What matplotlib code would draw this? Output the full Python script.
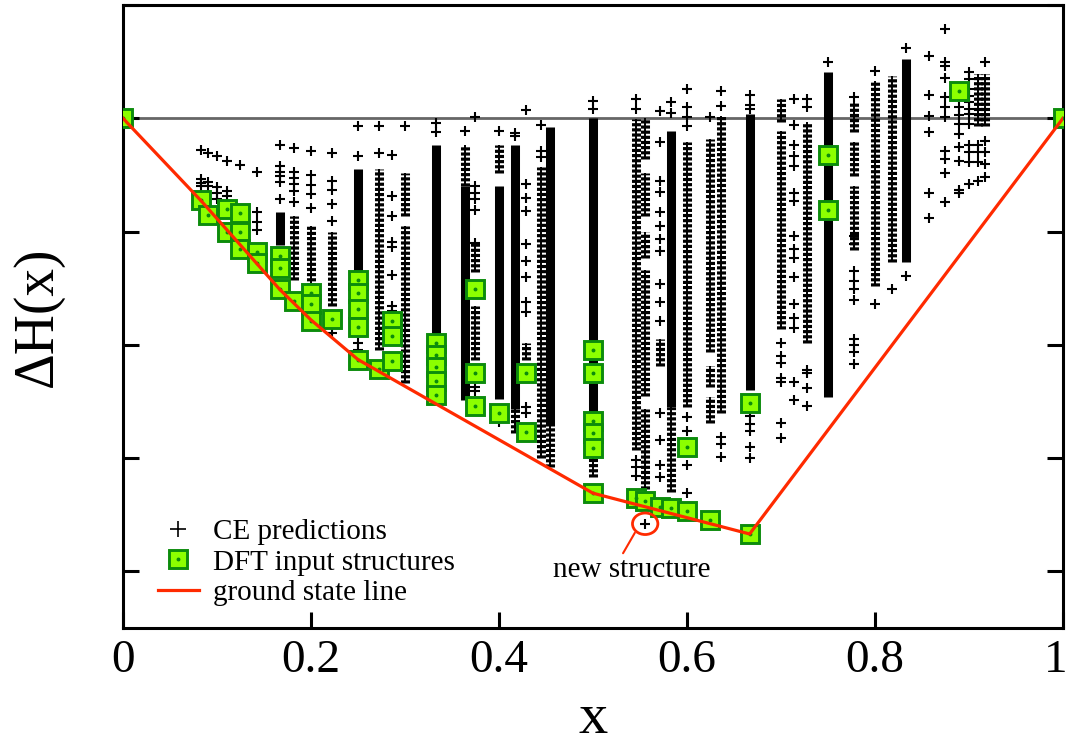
import numpy as np
import matplotlib
matplotlib.use('Agg')
import matplotlib.pyplot as plt
from matplotlib.patches import Ellipse
from matplotlib.lines import Line2D
from matplotlib.transforms import ScaledTranslation

plt.rcParams['font.family'] = ['Liberation Serif', 'DejaVu Serif']

# CE predictions: isolated crosses per composition column
ce_points = [
    (1/12, [-0.028, -0.054, -0.057, -0.060]),
    (1/11, [-0.031, -0.056, -0.060]),
    (1/10, [-0.033, -0.061, -0.066, -0.071]),
    (1/9, [-0.038, -0.064, -0.069]),
    (1/8, [-0.041]),
    (1/7, [-0.047, -0.083, -0.092, -0.099]),
    (1/6, [-0.024, -0.042, -0.047, -0.051, -0.056, -0.071]),
    (2/11, [-0.026, -0.047, -0.053, -0.058, -0.064, -0.074]),
    (1/5, [-0.029, -0.050, -0.059, -0.067, -0.079]),
    (2/9, [-0.031, -0.055, -0.063, -0.076, -0.091, -0.190]),
    (1/4, [-0.007, -0.033, -0.198, -0.205]),
    (3/11, [-0.007, -0.031]),
    (2/7, [-0.032, -0.069, -0.086, -0.109, -0.114, -0.138, -0.166, -0.170]),
    (3/10, [-0.007]),
    (1/3, [-0.004, -0.012]),
    (4/11, [-0.011]),
    (3/8, [0.001, -0.060, -0.066, -0.071, -0.081, -0.110, -0.237, -0.241]),
    (2/5, [-0.011, -0.268]),
    (5/12, [-0.013, -0.016]),
    (3/7, [0.007, -0.058, -0.070, -0.082, -0.111, -0.126, -0.140, -0.162,
           -0.171, -0.255, -0.260]),
    (4/9, [-0.006, -0.029, -0.034]),
    (1/2, [0.015, 0.008]),
    (6/11, [0.017, 0.008, -0.302, -0.308, -0.316]),
    (5/9, [-0.358]),
    (4/7, [0.006, -0.021, -0.055, -0.065, -0.083, -0.095, -0.107, -0.117,
           -0.146, -0.162, -0.179, -0.260, -0.284, -0.306, -0.317]),
    (7/12, [0.014, 0.005]),
    (3/5, [0.026, 0.010, 0.001, -0.007, -0.264, -0.276, -0.306, -0.331]),
    (5/8, [0.001]),
    (7/11, [0.024, 0.011, -0.281, -0.288, -0.299]),
    (2/3, [0.021, 0.012, 0.008, -0.263, -0.270, -0.276, -0.290, -0.300]),
    (7/10, [-0.198, -0.210, -0.216, -0.229, -0.233, -0.269, -0.282]),
    (5/7, [0.017, -0.006, -0.024, -0.033, -0.042, -0.066, -0.073, -0.104,
           -0.115, -0.123, -0.140, -0.164, -0.176, -0.185, -0.233, -0.249]),
    (8/11, [0.017, 0.010, -0.222, -0.225, -0.238, -0.254]),
    (3/4, [0.050]),
    (7/9, [0.019, -0.104, -0.111, -0.135, -0.144, -0.151, -0.160, -0.195,
           -0.200, -0.206, -0.217]),
    (4/5, [0.042, -0.164]),
    (9/11, [-0.151]),
    (5/6, [0.062, -0.139]),
    (6/7, [0.055, 0.021, 0.002, -0.012, -0.066, -0.088]),
    (7/8, [0.079, 0.050, 0.046, 0.036, 0.019, 0.010, 0.001, -0.029, -0.036,
           -0.048, -0.074]),
    (8/9, [0.010, 0.003, -0.005, -0.014, -0.025, -0.038, -0.063, -0.066]),
    (9/10, [0.041, 0.035, 0.026, 0.020, 0.014, 0.008, 0.004, -0.005, -0.024,
            -0.030, -0.039, -0.058]),
    (10/11, [-0.024, -0.030, -0.039, -0.055]),
    (11/12, [0.050, -0.020, -0.030, -0.040, -0.052]),
]

# CE predictions packed so tightly they form a solid bar (top, bottom)
ce_dense = [
    (1/6, -0.083, -0.112), (1/4, -0.045, -0.135), (1/3, -0.024, -0.195),
    (4/11, -0.060, -0.249), (2/5, -0.060, -0.248), (5/12, -0.024, -0.257),
    (5/11, -0.008, -0.272), (1/2, 0.000, -0.275), (7/12, -0.011, -0.255),
    (2/3, 0.004, -0.240), (3/4, 0.041, -0.246), (5/6, 0.052, -0.127),
]

# CE predictions stacked in ladder-like runs (top, bottom)
ce_ladder = [
    (2/11, -0.086, -0.143), (1/5, -0.095, -0.148), (2/9, -0.100, -0.166),
    (3/11, -0.045, -0.205), (3/10, -0.048, -0.086), (3/10, -0.095, -0.234),
    (4/11, -0.024, -0.060), (3/8, -0.109, -0.136), (3/8, -0.166, -0.213),
    (2/5, -0.024, -0.048), (5/12, -0.257, -0.278), (3/7, -0.198, -0.213),
    (4/9, -0.043, -0.300), (5/11, -0.272, -0.308), (1/2, -0.298, -0.317),
    (6/11, -0.001, -0.293), (5/9, 0.000, -0.036), (5/9, -0.048, -0.086),
    (5/9, -0.100, -0.123), (5/9, -0.134, -0.245), (5/9, -0.257, -0.327),
    (4/7, -0.195, -0.219), (7/12, -0.255, -0.330), (3/5, -0.021, -0.255),
    (5/8, -0.018, -0.206), (5/8, -0.219, -0.237), (5/8, -0.246, -0.269),
    (7/11, 0.002, -0.260), (7/10, 0.017, -0.003), (7/10, -0.011, -0.186),
    (8/11, -0.003, -0.198), (7/9, 0.014, -0.012), (7/9, -0.021, -0.051),
    (7/9, -0.060, -0.116), (4/5, 0.033, -0.148), (9/11, 0.037, -0.127),
    (10/11, 0.039, -0.007), (11/12, 0.039, -0.007),
]

# DFT input structures
dft_x = [0, 1/12, 1/11, 1/9, 1/9, 1/8, 1/8, 1/8, 1/7, 1/7, 1/6, 1/6, 1/6,
         2/11, 1/5, 1/5, 1/5, 2/9, 1/4, 1/4, 1/4, 1/4, 1/4, 3/11,
         2/7, 2/7, 2/7, 1/3, 1/3, 1/3, 1/3, 1/3, 3/8, 3/8, 3/8, 2/5,
         3/7, 3/7, 1/2, 1/2, 1/2, 1/2, 1/2, 1/2, 6/11, 5/9, 4/7, 7/12,
         3/5, 3/5, 5/8, 2/3, 2/3, 3/4, 3/4, 8/9, 1]
dft_y = [0, -0.072, -0.085, -0.080, -0.100, -0.084, -0.100, -0.115, -0.118,
         -0.128, -0.122, -0.132, -0.151, -0.161, -0.154, -0.164, -0.179,
         -0.177, -0.143, -0.154, -0.168, -0.184, -0.213, -0.221,
         -0.179, -0.192, -0.214, -0.198, -0.209, -0.220, -0.232, -0.244,
         -0.151, -0.225, -0.254, -0.260, -0.225, -0.277,
         -0.205, -0.225, -0.267, -0.278, -0.291, -0.331, -0.335, -0.338,
         -0.343, -0.344, -0.290, -0.347, -0.355, -0.251, -0.367,
         -0.032, -0.081, 0.024, 0]

# ground state line
gs_x = [0, 1/12, 1/6, 1/5, 1/4, 1/2, 2/3, 1]
gs_y = [0, -0.073, -0.151, -0.178, -0.213, -0.331, -0.367, 0]

new_structure = (5/9, -0.358)

red = '#ff2a00'
face = '#8cff00'
edge = '#0c8c0c'

fig = plt.figure(figsize=(10.71, 7.5), dpi=100)
ax = fig.add_axes([0.1148, 0.1627, 0.8777, 0.8306])

ax.axhline(0, color='#666666', lw=2.0, zorder=1)

# ladders: thin centre stroke + dashed arms
lx = [c[0] for c in ce_ladder]
ax.vlines(lx, [c[2] for c in ce_ladder], [c[1] for c in ce_ladder],
          colors='k', lw=1.4, zorder=2)
ax.vlines(lx, [c[2] for c in ce_ladder], [c[1] for c in ce_ladder],
          colors='k', lw=6.5, linestyles=[(0, (0.35, 0.22))], zorder=2)
ax.vlines([c[0] for c in ce_dense], [c[2] for c in ce_dense],
          [c[1] for c in ce_dense], colors='k', lw=6.5, zorder=2)

px = [x for x, ys in ce_points for _ in ys]
py = [y for _, ys in ce_points for y in ys]
ax.plot(px, py, ls='none', marker='+', ms=6.8, mew=1.5, color='k', zorder=3)

ax.plot(dft_x, dft_y, ls='none', marker='s', ms=12.5, mfc=face, mec=edge,
        mew=2.1, zorder=4)
ax.plot(dft_x, dft_y, ls='none', marker='o', ms=1.8, color=edge, zorder=5)

ax.plot(gs_x, gs_y, color=red, lw=2.3, zorder=6)

ax.add_patch(Ellipse(new_structure, 0.027, 0.019, fill=False, ec=red,
                     lw=2.0, zorder=6))
ax.annotate('new structure', xy=(new_structure[0] - 0.011, new_structure[1] - 0.008),
            xytext=(0.5413, -0.399), ha='center', va='center', fontsize=21,
            arrowprops=dict(arrowstyle='-', color=red, lw=1.5,
                            shrinkA=1, shrinkB=0, relpos=(0.43, 1.0)))

h1 = Line2D([], [], ls='none', marker='+', ms=12, mew=1.2, color='k')
h2a = Line2D([], [], ls='none', marker='s', ms=12.5, mfc=face, mec=edge, mew=2.1)
h2b = Line2D([], [], ls='none', marker='o', ms=1.8, color=edge)
h3 = Line2D([], [], color=red, lw=2.3)
ax.legend([h1, (h2a, h2b), h3],
          ['CE predictions', 'DFT input structures', 'ground state line'],
          loc='lower left', bbox_to_anchor=(0.037, 0.035), frameon=False,
          fontsize=21, handlelength=1.4, handletextpad=0.5,
          labelspacing=0.14, borderpad=0, borderaxespad=0, numpoints=1)

ax.set_xlim(0, 1)
ax.set_ylim(-0.45, 0.1)
ax.set_xticks([0, 0.2, 0.4, 0.6, 0.8, 1])
ax.set_xticklabels(['0', '0.2', '0.4', '0.6', '0.8', '1'])
ax.set_yticks([-0.4, -0.3, -0.2, -0.1, 0, 0.1])
ax.tick_params(direction='in', length=11.5, width=2.2, labelsize=34, pad=8)
ax.tick_params(axis='y', right=True, labelleft=False)
for s in ax.spines.values():
    s.set_linewidth(2.2)

# keep the "1" inside the canvas
last = ax.get_xticklabels()[-1]
last.set_transform(last.get_transform() + ScaledTranslation(-0.07, 0, fig.dpi_scale_trans))

ax.set_xlabel('x', fontsize=42)
ax.set_ylabel('ΔH(x)', fontsize=40)
ax.yaxis.set_label_coords(-0.063, 0.5)
ax.xaxis.set_label_coords(0.5, -0.104)

fig.savefig('out.png', dpi=100)
